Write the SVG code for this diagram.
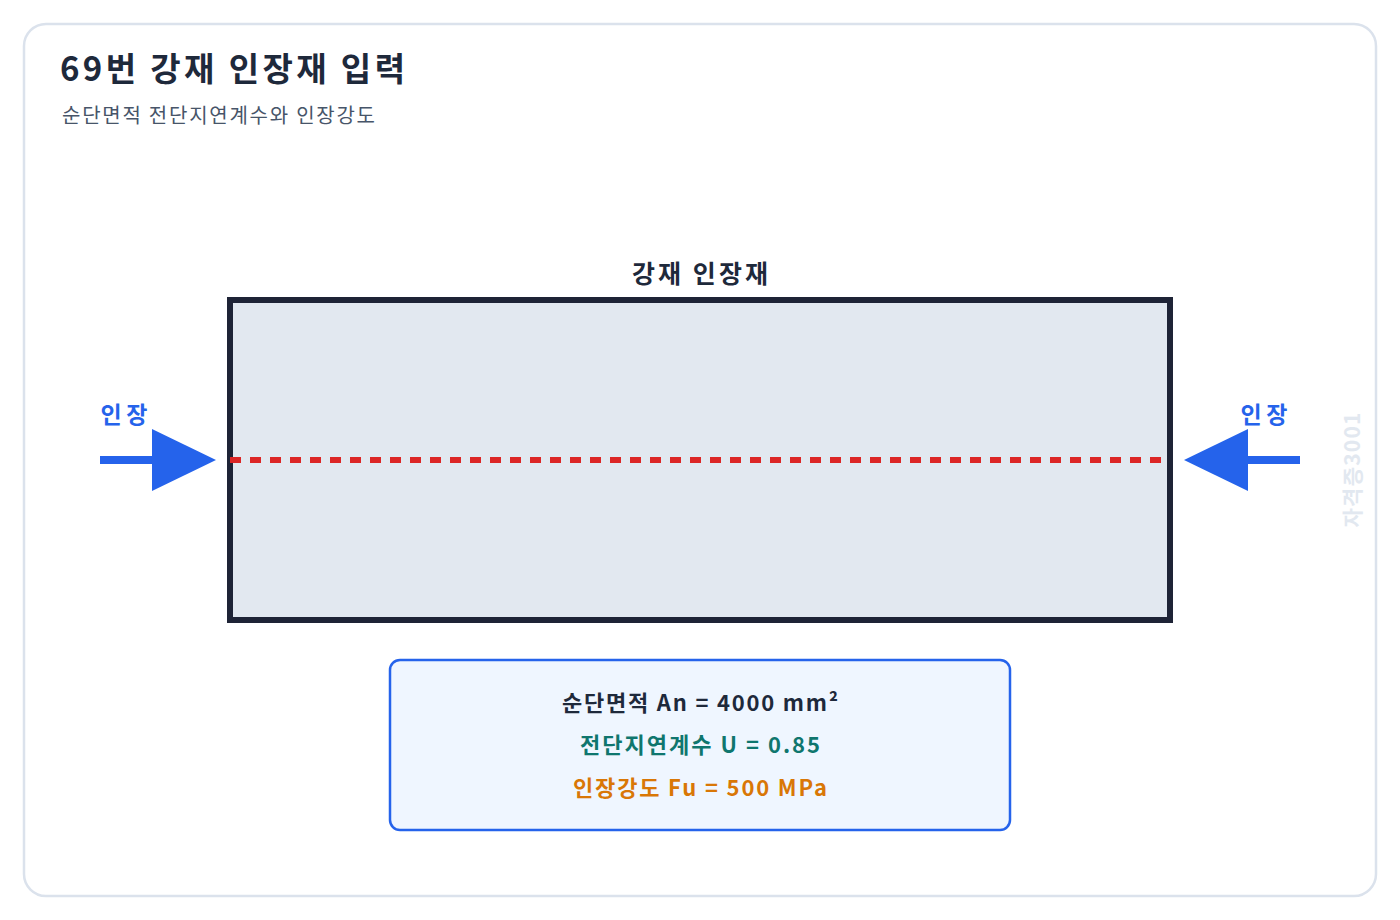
<svg xmlns="http://www.w3.org/2000/svg" width="1400" height="920" viewBox="0 0 1400 920">
<style>
text{font-family:"Noto Sans CJK KR","Noto Sans",sans-serif}
.b{font-weight:700}
.lbl{font-size:23px;fill:#2563eb;font-weight:700;text-anchor:middle}
.info{font-size:22px;font-weight:700;text-anchor:middle}
</style>
<rect x="0" y="0" width="1400" height="920" fill="#ffffff"/>
<rect x="24" y="24" width="1352" height="872" rx="22" fill="#ffffff" stroke="#dbe2ec" stroke-width="2.5"/>
<text x="60" y="81" class="b" font-size="33" fill="#1e293b" textLength="345" lengthAdjust="spacing">69번 강재 인장재 입력</text>
<text x="62" y="123" font-size="20" fill="#475569" textLength="313" lengthAdjust="spacing">순단면적 전단지연계수와 인장강도</text>
<g id="member">
<text x="700" y="283" class="b" font-size="25" fill="#1e293b" text-anchor="middle" textLength="136" lengthAdjust="spacing">강재 인장재</text>
<rect x="230" y="300" width="940" height="320" fill="#e2e8f0" stroke="#1e2336" stroke-width="6"/>
<line x1="230" y1="460" x2="1164" y2="460" stroke="#dc2626" stroke-width="6" stroke-dasharray="11 9"/>
</g>
<g id="connectors">
<line x1="100" y1="460" x2="156" y2="460" stroke="#2563eb" stroke-width="8"/>
<polygon points="152,429 216,460 152,491" fill="#2563eb"/>
<line x1="1244" y1="460" x2="1300" y2="460" stroke="#2563eb" stroke-width="8"/>
<polygon points="1248,429 1184,460 1248,491" fill="#2563eb"/>
</g>
<g id="label-left"><text x="124" y="423" class="lbl" textLength="47" lengthAdjust="spacing">인장</text></g>
<g id="label-right"><text x="1264" y="423" class="lbl" textLength="47" lengthAdjust="spacing">인장</text></g>
<text transform="translate(1360,470) rotate(-90)" class="b" font-size="21" fill="#e2e8f0" text-anchor="middle" textLength="115" lengthAdjust="spacing">자격증3001</text>
<g id="info">
<rect x="390" y="660" width="620" height="170" rx="10" fill="#eff6ff" stroke="#2563eb" stroke-width="2.5"/>
<text x="700" y="711" class="info" fill="#1e293b" textLength="276" lengthAdjust="spacing">순단면적 An = 4000 mm²</text>
<text x="700" y="753" class="info" fill="#0f766e" textLength="240" lengthAdjust="spacing">전단지연계수 U = 0.85</text>
<text x="700" y="796" class="info" fill="#d97706" textLength="254" lengthAdjust="spacing">인장강도 Fu = 500 MPa</text>
</g>
</svg>
